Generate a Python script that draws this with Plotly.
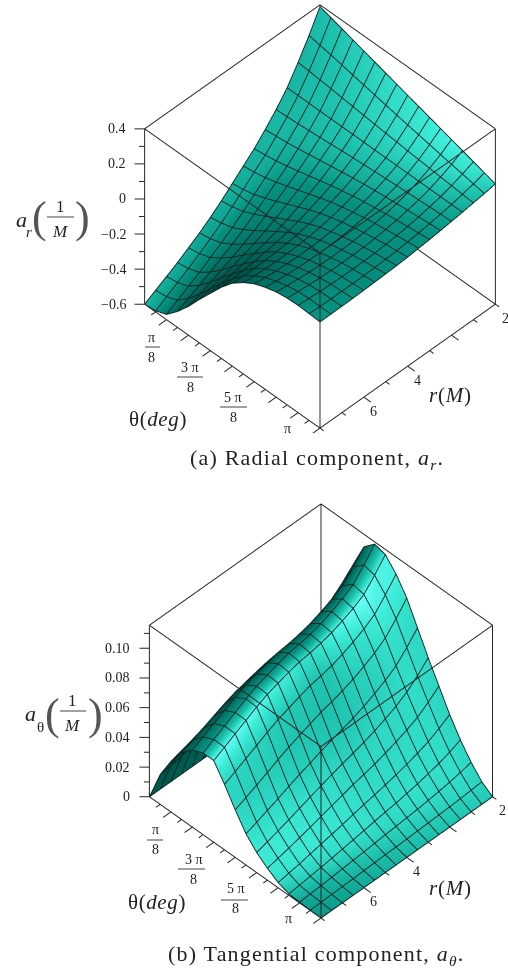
import math
import numpy as np
import plotly.graph_objects as go

W, H = 508, 968
PI = math.pi

# axis positions: 17 grid stations along the r frame edge, theta in sixteenths of pi
r_pos = list(range(17))
theta = [i * PI / 16 for i in range(17)]

# a_r : one row per r station, one value per theta
a_r = [
    [.39, .371, .352, .333, .314, .295, .276, .257, .238, .219, .20, .181, .162, .143, .124, .105, .086],
    [.270, .258, .247, .234, .221, .208, .195, .182, .169, .157, .145, .133, .121, .109, .098, .086, .075],
    [.16, .155, .149, .143, .136, .130, .123, .116, .110, .104, .098, .092, .087, .081, .076, .071, .066],
    [.060, .060, .060, .059, .059, .059, .059, .059, .058, .058, .058, .058, .058, .057, .057, .057, .057],
    [-.020, -.017, -.013, -.008, -.002, .003, .009, .014, .019, .024, .028, .032, .036, .039, .043, .046, .049],
    [-.090, -.084, -.077, -.067, -.056, -.045, -.034, -.023, -.013, -.004, .004, .011, .018, .024, .030, .036, .041],
    [-.155, -.147, -.137, -.122, -.106, -.089, -.072, -.056, -.041, -.028, -.016, -.006, .004, .012, .020, .027, .034],
    [-.210, -.200, -.188, -.169, -.148, -.126, -.104, -.082, -.062, -.045, -.031, -.018, -.007, .003, .012, .020, .028],
    [-.265, -.255, -.240, -.216, -.190, -.161, -.134, -.106, -.081, -.061, -.043, -.029, -.015, -.004, .006, .014, .022],
    [-.320, -.309, -.292, -.264, -.231, -.196, -.162, -.128, -.098, -.073, -.053, -.036, -.021, -.009, .001, .010, .018],
    [-.37, -.358, -.340, -.307, -.269, -.226, -.186, -.146, -.110, -.082, -.059, -.040, -.024, -.011, -.001, .007, .015],
    [-.415, -.403, -.383, -.346, -.302, -.253, -.206, -.160, -.119, -.087, -.061, -.041, -.024, -.011, -.002, .005, .012],
    [-.455, -.444, -.423, -.381, -.332, -.276, -.223, -.170, -.125, -.090, -.062, -.040, -.023, -.010, -.001, .004, .010],
    [-.495, -.485, -.463, -.416, -.361, -.298, -.238, -.180, -.129, -.091, -.060, -.038, -.020, -.008, 0, .004, .008],
    [-.53, -.521, -.498, -.447, -.387, -.316, -.251, -.186, -.130, -.089, -.056, -.033, -.014, -.003, .003, .005, .007],
    [-.565, -.557, -.534, -.478, -.412, -.334, -.262, -.191, -.130, -.085, -.050, -.027, -.008, .002, .007, .006, .006],
    [-.6, -.594, -.57, -.509, -.436, -.352, -.273, -.194, -.127, -.079, -.042, -.018, 0, .009, .012, .009, .006],
]

# a_theta : same layout
a_t = [
    [0, .034, .064, .09, .107, .114, .112, .104, .093, .078, .063, .049, .035, .023, .013, .005, 0],
    [0, .0317, .0594, .0830, .0986, .105, .1032, .0951, .0841, .0699, .0560, .0432, .0306, .0199, .0113, .0044, 0],
    [0, .0296, .0551, .0770, .0911, .097, .0954, .0871, .0763, .0627, .0500, .0382, .0269, .0174, .0098, .0038, 0],
    [0, .0287, .0529, .0734, .0870, .0925, .0911, .0824, .0713, .0580, .0457, .0348, .0242, .0155, .0087, .0034, 0],
    [0, .0280, .0512, .0708, .0838, .089, .0878, .0787, .0674, .0542, .0423, .0319, .0219, .0138, .0078, .0031, 0],
    [0, .0275, .0498, .0686, .0810, .086, .0850, .0755, .0639, .0507, .0393, .0294, .0199, .0124, .0069, .0028, 0],
    [0, .0271, .0488, .0672, .0791, .084, .0831, .0730, .0612, .0479, .0367, .0271, .0182, .0111, .0063, .0025, 0],
    [0, .0269, .0484, .0662, .0777, .0825, .0816, .0712, .0589, .0456, .0345, .0252, .0166, .0101, .0056, .0022, 0],
    [0, .0269, .0481, .0655, .0768, .0815, .0807, .0698, .0570, .0434, .0325, .0235, .0152, .0090, .0051, .0019, 0],
    [0, .0266, .0471, .0640, .0749, .0795, .0788, .0675, .0543, .0409, .0302, .0215, .0136, .0078, .0044, .0018, 0],
    [0, .0261, .0460, .0621, .0726, .077, .0765, .0648, .0516, .0381, .0278, .0194, .0119, .0067, .0037, .0015, 0],
    [0, .0256, .0447, .0603, .0703, .0745, .0741, .0622, .0488, .0355, .0254, .0174, .0104, .0056, .0031, .0013, 0],
    [0, .0247, .0429, .0576, .0670, .071, .0707, .0588, .0455, .0325, .0229, .0153, .0089, .0045, .0025, .0010, 0],
    [0, .0236, .0407, .0545, .0632, .067, .0668, .0550, .0419, .0294, .0203, .0133, .0074, .0035, .0019, .0008, 0],
    [0, .0224, .0385, .0513, .0595, .063, .0629, .0513, .0385, .0265, .0179, .0114, .0059, .0026, .0014, .0006, 0],
    [0, .0212, .0362, .0481, .0557, .059, .0589, .0476, .0352, .0237, .0156, .0096, .0047, .0017, .0009, .0004, 0],
    [0, .020, .034, .045, .052, .055, .055, .044, .032, .021, .0135, .008, .0035, .001, .0005, .0002, 0],
]

z_a_range = [-0.6, 0.4]
z_b_range = [0.0, 0.1155]
z_a_major = [-0.6, -0.4, -0.2, 0.0, 0.2, 0.4]
z_a_minor = [-0.5, -0.3, -0.1, 0.1, 0.3]
z_a_text = ["\u22120.6", "\u22120.4", "\u22120.2", "0", "0.2", "0.4"]
z_b_major = [0.0, 0.02, 0.04, 0.06, 0.08, 0.10]
z_b_minor = [0.01, 0.03, 0.05, 0.07, 0.09, 0.11]
z_b_text = ["0", "0.02", "0.04", "0.06", "0.08", "0.10"]
r_major = [4, 8, 12]
r_minor = [0, 2, 6, 10, 14, 16]
r_label_pos = [0, 8, 12]
r_label_text = ["2", "4", "6"]
theta_major = [k * PI / 8 for k in range(1, 9)]
theta_minor = [k * PI / 8 - PI / 16 for k in range(1, 9)]

R0, R1 = 0.0, 16.0
T0, T1 = 0.0, PI
PAD = 0.15
INK = "#262626"
SERIF = "Liberation Serif"
EYE = (1.0, 1.0, 1.414)
SHADE = [
    [0.00, "rgb(0,60,52)"],
    [0.30, "rgb(0,100,88)"],
    [0.70, "rgb(6,145,128)"],
    [0.85, "rgb(30,195,175)"],
    [0.95, "rgb(60,235,215)"],
    [1.00, "rgb(105,255,250)"],
]


def frame_and_ticks(zr, zmaj, zmin, scene):
    Z0, Z1 = zr
    xs, ys, zs = [], [], []

    def seg(a, b):
        xs.extend([a[0], b[0], None])
        ys.extend([a[1], b[1], None])
        zs.extend([a[2], b[2], None])

    for z in (Z0, Z1):
        seg((R0, T0, z), (R1, T0, z))
        seg((R1, T0, z), (R1, T1, z))
        seg((R1, T1, z), (R0, T1, z))
        seg((R0, T1, z), (R0, T0, z))
    for r_, t_ in ((R0, T0), (R1, T0), (R0, T1), (R1, T1)):
        seg((r_, t_, Z0), (r_, t_, Z1))
    dr, dt = R1 - R0, T1 - T0
    for vals, ln in ((zmaj, .029), (zmin, .016)):
        for z in vals:
            seg((R1, T0, z), (R1 + ln * dr, T0 - ln * dt, z))
    for vals, ln in ((theta_major, .045), (theta_minor, .025)):
        for t_ in vals:
            seg((R1, t_, Z0), (R1 + ln * dr, t_, Z0))
    for vals, ln in ((r_major, .04), (r_minor, .022)):
        for r_ in vals:
            seg((r_, T1, Z0), (r_, T1 + ln * dt, Z0))
    return go.Scatter3d(x=xs, y=ys, z=zs, mode="lines", line=dict(color=INK, width=2),
                        hoverinfo="skip", showlegend=False, scene=scene)


def mesh(zrows, zr, scene):
    # the grid lines of the surface, nudged towards the viewer so they stay in front of it
    z = np.array(zrows)
    nudge = 0.012
    ox = nudge * (R1 - R0) * EYE[0]
    oy = nudge * (T1 - T0) * EYE[1]
    oz = nudge * (zr[1] - zr[0]) * EYE[2]
    style = dict(mode="lines", line=dict(color="#0b2421", width=1.8), hoverinfo="skip",
                 showlegend=False, scene=scene)
    traces = []
    for i, r_ in enumerate(r_pos):
        traces.append(go.Scatter3d(x=[r_ + ox] * len(theta), y=[t_ + oy for t_ in theta],
                                   z=(z[i, :] + oz).tolist(), **style))
    for j, t_ in enumerate(theta):
        traces.append(go.Scatter3d(x=[r_ + ox for r_ in r_pos], y=[t_ + oy] * len(r_pos),
                                   z=(z[:, j] + oz).tolist(), **style))
    return traces


def facing(zrows, zr):
    # brightness of each vertex: how squarely the surface faces the viewer
    z = (np.array(zrows) - zr[0]) / (zr[1] - zr[0])
    dzdr, dzdt = np.gradient(z, 1 / 16, 1 / 16)
    e = np.array(EYE) / np.linalg.norm(EYE)
    norm = np.sqrt(dzdr ** 2 + dzdt ** 2 + 1)
    return np.abs(-dzdr * e[0] - dzdt * e[1] + e[2]) / norm


def surface(zrows, zr, scene):
    return go.Surface(
        x=r_pos, y=theta, z=np.array(zrows).T, scene=scene, showscale=False,
        colorscale=SHADE, cmin=0, cmax=1, surfacecolor=facing(zrows, zr).T,
        hoverinfo="skip",
        lighting=dict(ambient=1, diffuse=0, specular=0, roughness=1, fresnel=0),
        contours=dict(x=dict(show=False, highlight=False), y=dict(show=False, highlight=False),
                      z=dict(show=False, highlight=False)),
    )


def scene_ann(x, y, z, text, dx, dy, size=14, xanchor="center"):
    return dict(x=x, y=y, z=z, text=text, showarrow=False, xshift=dx, yshift=-dy, xanchor=xanchor,
                yanchor="middle", font=dict(family=SERIF, size=size, color="#222222"))


def scene_layout(zr, zmaj, ztext, domain_px, zoom):
    Z0, Z1 = zr
    dz = Z1 - Z0
    x0, x1, y0, y1 = domain_px
    hidden = dict(visible=False, showspikes=False)
    anns = []
    for v, t in zip(zmaj, ztext):
        anns.append(scene_ann(R1, T0, v, t, -17, 0, xanchor="right"))
    for v, t in zip(r_label_pos, r_label_text):
        anns.append(scene_ann(v, T1, Z0, t, 10, 14))
    frac = [(PI / 8, "\u03c0", -15, 18), (PI / 8, "8", -15, 38),
            (3 * PI / 8, "3 \u03c0", -20, 17), (3 * PI / 8, "8", -20, 37),
            (5 * PI / 8, "5 \u03c0", -21, 16), (5 * PI / 8, "8", -21, 36),
            (PI, "\u03c0", -33, 0)]
    for t_, s, dx, dy in frac:
        anns.append(scene_ann(R1, t_, Z0, s, dx, dy))
    return dict(
        domain=dict(x=[x0 / W, x1 / W], y=[1 - y1 / H, 1 - y0 / H]),
        xaxis=dict(range=[R0 - PAD * (R1 - R0), R1 + PAD * (R1 - R0)], **hidden),
        yaxis=dict(range=[T0 - PAD * (T1 - T0), T1 + PAD * (T1 - T0)], **hidden),
        zaxis=dict(range=[Z0 - PAD * dz, Z1 + PAD * dz], **hidden),
        aspectmode="manual", aspectratio=dict(x=zoom, y=zoom, z=zoom),
        camera=dict(projection=dict(type="orthographic"),
                    center=dict(x=0, y=0, z=0), up=dict(x=0, y=0, z=1),
                    eye=dict(x=EYE[0], y=EYE[1], z=EYE[2])),
        annotations=anns,
    )


def txt(px, py, s, size, xanchor="center", color="#222222", spacing=None):
    if spacing:
        s = f'<span style="letter-spacing:{spacing}px">{s}</span>'
    return dict(xref="paper", yref="paper", x=px / W, y=1 - py / H, text=s, showarrow=False,
                xanchor=xanchor, yanchor="middle", font=dict(family=SERIF, size=size, color=color))


def bar(x0, x1, y):
    return dict(type="line", xref="paper", yref="paper", x0=x0 / W, x1=x1 / W, y0=1 - y / H, y1=1 - y / H,
                line=dict(color="#444444", width=1))


fig = go.Figure()
fig.add_trace(surface(a_r, z_a_range, "scene"))
fig.add_traces(mesh(a_r, z_a_range, "scene"))
fig.add_trace(frame_and_ticks(z_a_range, z_a_major, z_a_minor, "scene"))
fig.add_trace(surface(a_t, z_b_range, "scene2"))
fig.add_traces(mesh(a_t, z_b_range, "scene2"))
fig.add_trace(frame_and_ticks(z_b_range, z_b_major, z_b_minor, "scene2"))

annotations = [
    txt(21, 219, "<i>a</i>", 22), txt(29, 232, "<i>r</i>", 15),
    txt(39, 218, "(", 44, color="#555555"), txt(82, 218, ")", 44, color="#555555"),
    txt(60, 206, "1", 17), txt(60, 231, "<i>M</i>", 17),
    txt(158, 419, "\u03b8(<i>deg</i>)", 21, spacing=.6), txt(450, 395, "<i>r</i>(<i>M</i>)", 21, spacing=.8),
    txt(317, 459, "(a) Radial component, <i>a<sub>r</sub></i>.", 22, spacing=1.2),
    txt(30, 713, "<i>a</i>", 22), txt(40, 727, "\u03b8", 15),
    txt(52, 714, "(", 44, color="#555555"), txt(95, 714, ")", 44, color="#555555"),
    txt(72, 700, "1", 17), txt(72, 725, "<i>M</i>", 17),
    txt(157, 902, "\u03b8(<i>deg</i>)", 21, spacing=.6), txt(450, 888, "<i>r</i>(<i>M</i>)", 21, spacing=.8),
    txt(316, 955, "(b) Tangential component, <i>a<sub>\u03b8</sub></i>.", 22, spacing=1.2),
]
shapes = [
    bar(47, 74, 217), bar(145, 160, 347), bar(177, 203, 377), bar(220, 247, 407),
    bar(60, 86, 711), bar(147, 163, 840), bar(178, 205, 869), bar(221, 248, 900),
]

fig.update_layout(
    width=W, height=H, margin=dict(l=0, r=0, t=0, b=0), autosize=False,
    paper_bgcolor="white", showlegend=False,
    scene=scene_layout(z_a_range, z_a_major, z_a_text, (132, 508, 0, 433), 1.489),
    scene2=scene_layout(z_b_range, z_b_major, z_b_text, (134, 508, 496, 926), 1.467),
    annotations=annotations, shapes=shapes,
)
fig.write_html("out.html", config=dict(displayModeBar=False),
               post_script="document.body.style.margin='0';")
